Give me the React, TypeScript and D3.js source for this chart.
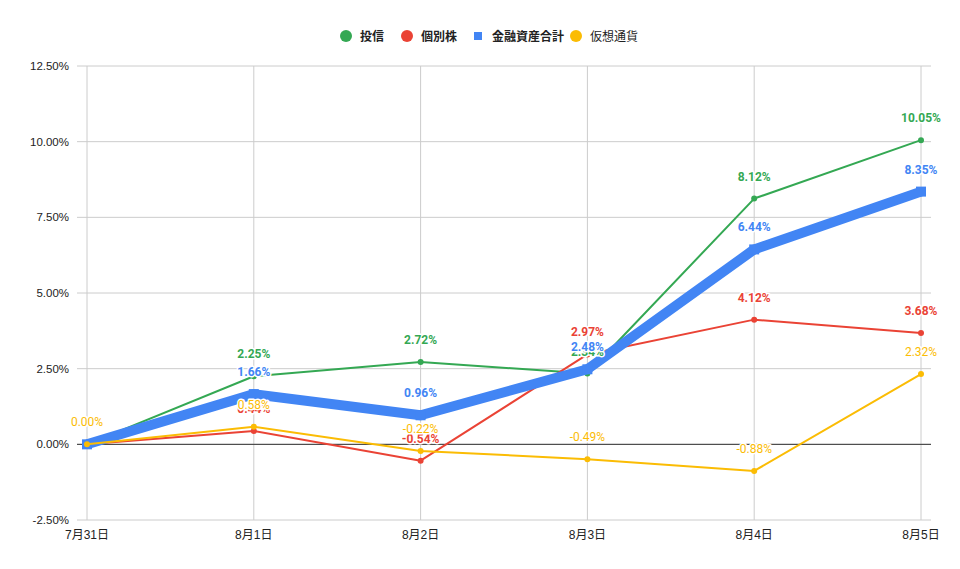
import React from "react";
import * as d3 from "d3";

const dates = ["7月31日", "8月1日", "8月2日", "8月3日", "8月4日", "8月5日"];
const toushin = [0.0, 2.25, 2.72, 2.34, 8.12, 10.05];
const kobetsu = [0.0, 0.44, -0.54, 2.97, 4.12, 3.68];
const kinyuTotal = [0.0, 1.66, 0.96, 2.48, 6.44, 8.35];
const kasou = [0.0, 0.58, -0.22, -0.49, -0.88, 2.32];
const yTicks = [-2.5, 0, 2.5, 5, 7.5, 10, 12.5];
// labels that the chart dropped because they overlapped (series name -> date index)
const hiddenLabels: Record<string, number[]> = {
  投信: [0],
  個別株: [0],
  金融資産合計: [0],
  仮想通貨: [],
};

const series = [
  { name: "投信", values: toushin, color: "#34A853", width: 2, bold: true, marker: "circle" },
  { name: "個別株", values: kobetsu, color: "#EA4335", width: 2, bold: true, marker: "circle" },
  { name: "金融資産合計", values: kinyuTotal, color: "#4285F4", width: 10, bold: true, marker: "square" },
  { name: "仮想通貨", values: kasou, color: "#FBBC04", width: 2, bold: false, marker: "circle" },
];

const W = 960;
const H = 569;
const labelFont = "Roboto, Arial, sans-serif";
const axisFont = "Arial, 'Liberation Sans', 'Noto Sans CJK JP', sans-serif";

const App: React.FC = () => {
  const x = d3.scalePoint<string>().domain(dates).range([87, 921]);
  const y = d3.scaleLinear().domain([-2.5, 12.5]).range([520, 66]);
  const line = d3
    .line<number>()
    .x((_, i) => x(dates[i]) as number)
    .y((d) => y(d));

  const gridLeft = 77;
  const gridRight = 931;

  // legend layout (centered)
  const legendItems = [
    { x: 346, tx: 360 },
    { x: 407, tx: 421 },
    { x: 478, tx: 492 },
    { x: 576, tx: 590 },
  ];

  return (
    <svg
      width={W}
      height={H}
      style={{ position: "absolute", left: 0, top: 0, background: "#fff" }}
    >
      <rect width={W} height={H} fill="#fff" />

      {/* grid */}
      {yTicks.map((t) => (
        <line
          key={"h" + t}
          x1={gridLeft}
          x2={gridRight}
          y1={y(t)}
          y2={y(t)}
          stroke="#cccccc"
          strokeWidth={1}
        />
      ))}
      {dates.map((d) => (
        <line
          key={"v" + d}
          x1={x(d)}
          x2={x(d)}
          y1={y(12.5)}
          y2={y(-2.5)}
          stroke="#cccccc"
          strokeWidth={1}
        />
      ))}
      <line x1={gridLeft} x2={gridRight} y1={y(0)} y2={y(0)} stroke="#333" strokeWidth={1} />

      {/* y tick labels */}
      {yTicks.map((t) => (
        <text
          key={"yt" + t}
          x={69}
          y={y(t) + 4}
          textAnchor="end"
          fontSize={11.5}
          fontFamily={axisFont}
          fill="#222"
        >
          {t.toFixed(2) + "%"}
        </text>
      ))}

      {/* x tick labels */}
      {dates.map((d) => (
        <text
          key={"xt" + d}
          x={x(d)}
          y={539}
          textAnchor="middle"
          fontSize={12}
          fontFamily={axisFont}
          fill="#222"
        >
          {d}
        </text>
      ))}

      {/* lines */}
      {series.map((s) => (
        <g key={s.name}>
          <path
            d={line(s.values) || ""}
            fill="none"
            stroke={s.color}
            strokeWidth={s.width}
            strokeLinejoin="round"
          />
          {s.values.map((v, i) =>
            s.marker === "square" ? (
              <rect
                key={i}
                x={(x(dates[i]) as number) - 5}
                y={y(v) - 5}
                width={10}
                height={10}
                fill={s.color}
              />
            ) : (
              <circle key={i} cx={x(dates[i])} cy={y(v)} r={3} fill={s.color} />
            ),
          )}
        </g>
      ))}

      {/* data labels */}
      {series.map((s) => (
        <g key={"lab" + s.name}>
          {s.values.map((v, i) =>
            hiddenLabels[s.name].includes(i) ? null : (
              <text
                key={i}
                x={x(dates[i])}
                y={y(v) - 18}
                textAnchor="middle"
                fontSize={12}
                fontFamily={labelFont}
                fontWeight={s.bold ? "bold" : "normal"}
                fill={s.color}
                stroke="#fff"
                strokeWidth={3}
                strokeLinejoin="round"
                paintOrder="stroke"
              >
                {v.toFixed(2) + "%"}
              </text>
            ),
          )}
        </g>
      ))}

      {/* legend */}
      {series.map((s, i) => (
        <g key={"lg" + s.name}>
          {s.marker === "square" ? (
            <rect x={legendItems[i].x - 4} y={32} width={8} height={8} fill={s.color} />
          ) : (
            <circle cx={legendItems[i].x} cy={36} r={6} fill={s.color} />
          )}
          <text
            x={legendItems[i].tx}
            y={40.5}
            fontSize={12}
            fontWeight={s.bold ? "bold" : "normal"}
            fontFamily="'Noto Sans CJK JP', sans-serif"
            fill="#222"
          >
            {s.name}
          </text>
        </g>
      ))}
    </svg>
  );
};

export default App;
